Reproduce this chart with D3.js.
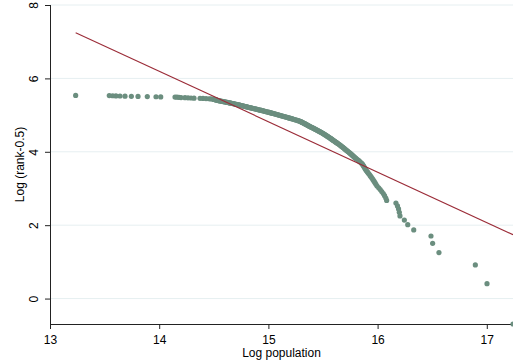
<!DOCTYPE html>
<html>
<head>
<meta charset="utf-8">
<script src="https://cdn.jsdelivr.net/npm/d3@7"></script>
<style>
  body { margin: 0; background: #fff; }
  text { font-family: "Liberation Sans", Arial, sans-serif; fill: #000; }
</style>
</head>
<body>
<svg id="vis"></svg>
<script>
const width = 513;
const height = 364;

// log population of each city, rank 1 (largest) first
const logPop = [
  17.240, 17.002, 16.895, 16.562, 16.504, 16.489, 16.331, 16.276, 16.245, 16.205,
  16.199, 16.192, 16.182, 16.168, 16.083, 16.075, 16.064, 16.052, 16.038, 16.024,
  16.010, 15.995, 15.985, 15.976, 15.967, 15.958, 15.950, 15.941, 15.932, 15.924,
  15.915, 15.907, 15.898, 15.892, 15.886, 15.880, 15.874, 15.869, 15.863, 15.857,
  15.848, 15.839, 15.830, 15.821, 15.811, 15.802, 15.793, 15.785, 15.778, 15.770,
  15.763, 15.755, 15.747, 15.740, 15.732, 15.725, 15.717, 15.710, 15.703, 15.697,
  15.690, 15.683, 15.676, 15.669, 15.662, 15.656, 15.649, 15.642, 15.635, 15.628,
  15.621, 15.614, 15.608, 15.601, 15.594, 15.588, 15.582, 15.576, 15.570, 15.564,
  15.558, 15.551, 15.545, 15.539, 15.533, 15.527, 15.521, 15.515, 15.509, 15.503,
  15.497, 15.490, 15.484, 15.477, 15.471, 15.464, 15.458, 15.452, 15.445, 15.439,
  15.432, 15.426, 15.420, 15.413, 15.407, 15.400, 15.394, 15.387, 15.381, 15.376,
  15.370, 15.365, 15.359, 15.354, 15.348, 15.343, 15.338, 15.332, 15.327, 15.321,
  15.316, 15.311, 15.305, 15.300, 15.294, 15.289, 15.281, 15.272, 15.264, 15.255,
  15.247, 15.238, 15.230, 15.221, 15.213, 15.204, 15.196, 15.187, 15.179, 15.170,
  15.162, 15.153, 15.145, 15.136, 15.128, 15.120, 15.112, 15.104, 15.096, 15.088,
  15.080, 15.072, 15.064, 15.056, 15.048, 15.040, 15.032, 15.024, 15.016, 15.008,
  15.000, 14.992, 14.984, 14.976, 14.968, 14.960, 14.952, 14.944, 14.936, 14.928,
  14.920, 14.912, 14.904, 14.896, 14.888, 14.880, 14.872, 14.864, 14.856, 14.848,
  14.840, 14.832, 14.825, 14.817, 14.810, 14.803, 14.796, 14.788, 14.781, 14.774,
  14.766, 14.759, 14.752, 14.745, 14.737, 14.730, 14.723, 14.715, 14.708, 14.701,
  14.694, 14.686, 14.679, 14.671, 14.663, 14.656, 14.648, 14.640, 14.633, 14.625,
  14.617, 14.610, 14.602, 14.594, 14.586, 14.579, 14.571, 14.563, 14.556, 14.548,
  14.543, 14.537, 14.531, 14.526, 14.520, 14.515, 14.509, 14.504, 14.498, 14.493,
  14.474, 14.456, 14.429, 14.401, 14.374, 14.319, 14.291, 14.264, 14.236, 14.200,
  14.181, 14.163, 14.145, 14.014, 13.971, 13.891, 13.806, 13.745, 13.687, 13.641,
  13.604, 13.574, 13.543, 13.235
];

// fitted line: log(rank-0.5) = a + b * log population
const fitIntercept = 25.445;
const fitSlope = -1.375;

const xTicks = [13, 14, 15, 16, 17];
const yTicks = [0, 2, 4, 6, 8];

const svg = d3.select("svg#vis");
svg.attr("width", width);
svg.attr("height", height);

const data = logPop.map((p, i) => ({ x: p, y: Math.log(i + 1 - 0.5) }));

const x = d3.scaleLinear().domain([13, d3.max(logPop)]).range([50, 513]);
const y = d3.scaleLinear().domain([d3.min(data, d => d.y), 8]).range([324, 5]);

// grid
svg.append("g")
  .selectAll("line")
  .data(yTicks)
  .enter()
  .append("line")
  .attr("x1", 50)
  .attr("x2", width)
  .attr("y1", d => y(d))
  .attr("y2", d => y(d))
  .style("stroke", "#e6eff1")
  .style("stroke-width", 1);

// axes
const xAxis = svg.append("g")
  .attr("transform", translate(0, 324))
  .call(d3.axisBottom(x).tickValues(xTicks).tickSize(5).tickPadding(6).tickFormat(d3.format("d")));

const yAxis = svg.append("g")
  .attr("transform", translate(50, 0))
  .call(d3.axisLeft(y).tickValues(yTicks).tickSize(5).tickFormat(d3.format("d")));

[xAxis, yAxis].forEach(function(a) {
  a.selectAll(".tick line").style("stroke", "#222");
  a.selectAll("text").style("font-size", "12px").style("font-family", "Liberation Sans, Arial, sans-serif").style("fill", "#000");
});

// domain lines without end caps
xAxis.select(".domain").style("stroke", "#222").attr("d", "M" + x.range()[0] + ",0.5H" + width);
yAxis.select(".domain").style("stroke", "#222").attr("d", "M0.5," + y.range()[1] + "V" + y.range()[0]);

yAxis.selectAll(".tick text")
  .attr("x", 0)
  .attr("y", 0)
  .attr("dy", null)
  .attr("text-anchor", "middle")
  .attr("transform", "translate(-12,0) rotate(-90)");

// points
svg.append("g")
  .selectAll("circle")
  .data(data)
  .enter()
  .append("circle")
  .attr("cx", d => x(d.x))
  .attr("cy", d => y(d.y))
  .attr("r", 2.6)
  .style("fill", "#6b8e7f");

// fitted line
const xr = d3.extent(logPop);
svg.append("path")
  .attr("d", d3.line()(xr.map(v => [x(v), y(fitIntercept + fitSlope * v)])))
  .style("fill", "none")
  .style("stroke", "#9b2c38")
  .style("stroke-width", 1.1);

// titles
svg.append("text")
  .attr("x", (50 + width) / 2)
  .attr("y", 357)
  .attr("text-anchor", "middle")
  .style("font-size", "12px")
  .text("Log population");

svg.append("text")
  .attr("transform", translate(24, (5 + 324) / 2) + " rotate(-90)")
  .attr("text-anchor", "middle")
  .style("font-size", "12px")
  .text("Log (rank-0.5)");

function translate(x, y) {
  return "translate(" + String(x) + "," + String(y) + ")";
}
</script>
</body>
</html>
